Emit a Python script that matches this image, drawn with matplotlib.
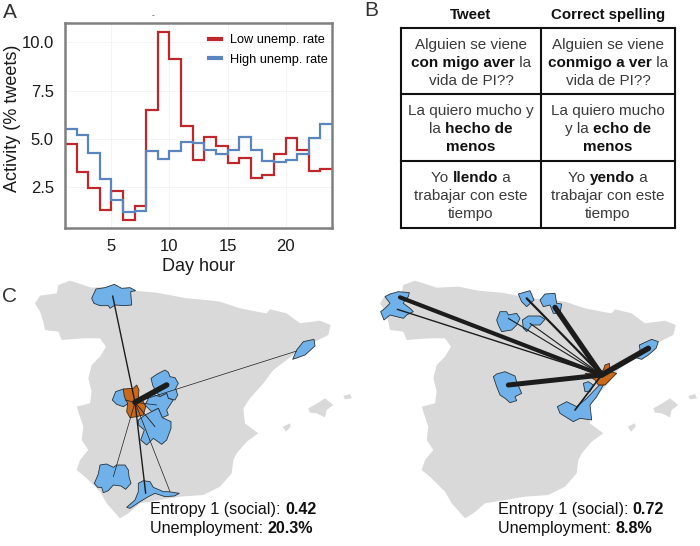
import numpy as np
import matplotlib
matplotlib.use('Agg')
import matplotlib.pyplot as plt
from matplotlib.patches import Polygon

plt.rcParams['font.family'] = ['Liberation Sans', 'DejaVu Sans']

# panel A data
hour_edges = list(range(1, 25))
low_rate = [4.75, 3.3, 2.45, 1.3, 2.33, 0.82, 1.52, 6.5, 10.55, 9.15, 5.65, 3.9,
            5.1, 4.62, 3.75, 4.0, 3.0, 3.12, 4.2, 5.05, 4.42, 3.35, 3.42]
high_rate = [5.5, 5.2, 4.28, 2.93, 1.83, 1.2, 1.28, 4.38, 3.97, 4.4, 4.82, 4.78,
             4.45, 4.22, 4.45, 5.12, 4.43, 3.85, 3.82, 3.9, 4.2, 5.05, 5.78]
x_ticks = [5, 10, 15, 20]
y_ticks = [2.5, 5.0, 7.5, 10.0]

# panel B data, a run is (text, bold)
col_heads = ['Tweet', 'Correct spelling']
tweet_cells = [
    [[('Alguien se viene', 0)], [('con migo aver', 1), (' la', 0)], [('vida de PI??', 0)]],
    [[('La quiero mucho y', 0)], [('la ', 0), ('hecho de', 1)], [('menos', 1)]],
    [[('Yo ', 0), ('llendo', 1), (' a', 0)], [('trabajar con este', 0)], [('tiempo', 0)]],
]
correct_cells = [
    [[('Alguien se viene', 0)], [('conmigo a ver', 1), (' la', 0)], [('vida de PI??', 0)]],
    [[('La quiero mucho', 0)], [('y la ', 0), ('echo de', 1)], [('menos', 1)]],
    [[('Yo ', 0), ('yendo', 1), (' a', 0)], [('trabajar con este', 0)], [('tiempo', 0)]],
]

spain = [(105,100),(120,77),(170,70),(175,45),(210,32),(235,40),(275,53),(340,50),(400,62),(470,68),
         (560,85),(620,90),(660,95),(720,115),(770,125),(800,130),(810,118),(860,130),(900,160),
         (960,152),(992,165),(985,195),(945,215),(905,235),(860,270),(820,300),(790,340),(750,385),
         (730,415),(735,460),(775,490),(740,515),(710,550),(700,570),(695,610),(660,650),(610,675),
         (540,680),(480,690),(420,700),(385,730),(360,745),(320,700),(300,665),(260,625),(230,600),
         (240,570),(265,540),(245,510),(250,470),(230,410),(270,400),(275,365),(265,325),(275,285),
         (300,260),(318,230),(300,205),(250,205),(185,210),(175,185),(135,180),(130,155),(120,125)]
islands = [[(925,415),(955,398),(975,385),(1000,405),(980,420),(975,442),(950,430),(930,428)],
           [(1030,378),(1050,372),(1056,385),(1035,388)],
           [(848,470),(870,460),(872,470),(858,485)]]

left_blue = [
    [(453,325),(470,313),(495,300),(505,307),(510,320),(525,323),(535,340),(527,355),(533,375),(525,390),(505,385),(500,370),(480,380),(465,360),(458,345)],
    [(450,370),(480,380),(500,370),(505,385),(520,390),(500,420),(505,435),(487,443),(475,415),(455,425),(435,405),(443,390)],
    [(415,450),(435,435),(455,425),(475,415),(487,443),(513,455),(513,475),(500,510),(485,523),(460,505),(440,525),(422,510),(433,480),(415,465)],
    [(337,390),(347,365),(370,357),(377,385),(385,400),(370,410),(350,403)],
    [(283,640),(295,612),(300,585),(320,582),(340,592),(350,585),(375,585),(385,600),(387,620),(393,640),(377,658),(363,648),(340,645),(325,662),(310,668),(305,652),(293,652)],
    [(380,712),(405,690),(415,665),(415,640),(430,632),(450,635),(460,652),(490,665),(505,665),(538,670),(523,678),(495,680),(465,670),(445,680),(420,695),(390,715)],
    [(275,85),(288,57),(315,53),(343,43),(365,55),(390,53),(407,62),(392,65),(395,105),(375,107),(345,105),(330,115),(325,107),(300,107),(282,100)],
    [(878,268),(890,240),(910,215),(942,208),(945,228),(915,255)],
]
left_orange = [[(370,357),(400,355),(410,345),(417,360),(415,380),(430,395),(437,410),(430,435),(410,440),(390,443),(380,425),(383,400),(373,380)]]
left_origin = (405, 397)
left_ends = [(338,78),(500,345),(890,243),(340,620),(437,670),(510,665),(465,470),(375,390),(470,405)]
left_widths = [1.0, 4.0, 0.5, 0.5, 1.0, 0.5, 0.6, 0.5, 0.5]

right_blue = [
    [(105,80),(120,72),(145,65),(178,68),(175,80),(165,90),(160,100),(180,115),(190,125),(170,135),(160,145),(120,135),(102,150),(92,125),(105,115),(120,100)],
    [(440,150),(450,125),(470,125),(475,135),(500,130),(510,145),(500,165),(485,180),(455,185),(445,165)],
    [(517,150),(535,138),(570,138),(585,148),(570,165),(545,165),(530,185),(520,175)],
    [(505,72),(540,62),(552,90),(530,110),(515,95)],
    [(570,90),(585,72),(615,70),(620,100),(635,102),(630,130),(610,130),(600,105),(580,110)],
    [(855,262),(870,240),(868,225),(905,208),(925,215),(918,235),(895,255),(875,268)],
    [(430,320),(440,312),(465,305),(495,318),(500,335),(515,370),(495,380),(500,392),(480,398),(465,385),(450,375),(440,350)],
    [(700,340),(715,335),(730,345),(720,365),(705,365)],
    [(748,345),(760,345),(740,380),(720,405),(725,450),(690,445),(670,455),(630,430),(622,410),(650,395),(680,410),(710,385)],
]
right_orange = [[(705,310),(735,310),(760,300),(765,285),(778,280),(780,305),(800,310),(780,330),(765,345),(745,345),(735,330)]]
right_origin = (755, 315)
right_ends = [(150,82),(142,118),(530,85),(615,112),(475,145),(540,160),(895,235),(475,345),(675,420)]
right_widths = [3.0, 1.0, 1.6, 3.8, 0.8, 0.8, 4.0, 3.6, 1.2]

right_dx = 1035
zoom_right = 1050
blue = '#6fb1e8'
orange = '#c8691c'
gray = '#d9d9d9'
dark = '#1c1c1c'

fig = plt.figure(figsize=(7, 5.46), dpi=100)

# background axes in pixels for everything but the line chart
bg = fig.add_axes([0, 0, 1, 1])
bg.set_xlim(0, 700)
bg.set_ylim(546, 0)
bg.axis('off')


def to_px(points, dx=0):
    return [((x + dx) / 3, y / 3 + 270) for x, y in points]


def draw_map(dx, blues, oranges, origin, ends, widths, blue_dx):
    bg.add_patch(Polygon(to_px(spain, dx), fc=gray, ec='none', zorder=1))
    for isl in islands:
        bg.add_patch(Polygon(to_px(isl, dx), fc=gray, ec='none', zorder=1))
    for p in blues:
        bg.add_patch(Polygon(to_px(p, blue_dx), fc=blue, ec='#26323c', lw=0.6, zorder=2))
    for p in oranges:
        bg.add_patch(Polygon(to_px(p, blue_dx), fc=orange, ec='#3a2a18', lw=0.6, zorder=3))
    ox, oy = to_px([origin], blue_dx)[0]
    for end, w in zip(ends, widths):
        ex, ey = to_px([end], blue_dx)[0]
        bg.plot([ox, ex], [oy, ey], color=dark, lw=w, solid_capstyle='round', zorder=4)


draw_map(0, left_blue, left_orange, left_origin, left_ends, left_widths, 0)
draw_map(right_dx, right_blue, right_orange, right_origin, right_ends, right_widths, zoom_right)

# panel letters
bg.text(3, 12, 'A', fontsize=15, va='center', color='#333333')
bg.text(364, 11, 'B', fontsize=15, va='center', color='#333333')
bg.text(2, 296, 'C', fontsize=15, va='center', color='#333333')
bg.text(153, 15.5, '-', fontsize=6, ha='center', va='center', color='#333333')

# table of panel B
tab_x = [401, 541, 675]
tab_y = [28, 94, 161, 228]
for x in tab_x:
    bg.plot([x, x], [tab_y[0], tab_y[-1]], color='#111111', lw=1.5, solid_capstyle='projecting', zorder=2)
for y in tab_y:
    bg.plot([tab_x[0], tab_x[-1]], [y, y], color='#111111', lw=1.5, solid_capstyle='projecting', zorder=2)

renderer = fig.canvas.get_renderer()


def run_width(s, bold, size):
    # the x's keep the spaces at the ends of a run in the measure
    t = bg.text(0, 0, 'x' + s + 'x', fontsize=size, fontweight='bold' if bold else 'normal')
    w = t.get_window_extent(renderer).width
    t.set_text('xx')
    w -= t.get_window_extent(renderer).width
    t.remove()
    return w


def draw_runs(cx, cy, runs, size, color='#3a3a3a', center=True):
    widths = [run_width(s, b, size) for s, b in runs]
    x = cx - sum(widths) / 2 if center else cx
    for (s, b), w in zip(runs, widths):
        bg.text(x, cy, s.replace(' ', '\u00a0'), fontsize=size, fontweight='bold' if b else 'normal',
                color='#111111' if b else color, ha='left', va='baseline')
        x += w


for col, cells in enumerate([tweet_cells, correct_cells]):
    cx = (tab_x[col] + tab_x[col + 1]) / 2
    draw_runs(cx, 19, [(col_heads[col], 1)], 10.8, center=True)
    for row, cell in enumerate(cells):
        for k, runs in enumerate(cell):
            draw_runs(cx, tab_y[row] + 21 + k * 18, runs, 11)

# map captions
draw_runs(150, 514, [('Entropy 1 (social): ', 0), ('0.42', 1)], 11.6, color='#111111', center=False)
draw_runs(150, 533, [('Unemployment: ', 0), ('20.3%', 1)], 11.6, color='#111111', center=False)
draw_runs(497.5, 514, [('Entropy 1 (social): ', 0), ('0.72', 1)], 11.6, color='#111111', center=False)
draw_runs(497.5, 533, [('Unemployment: ', 0), ('8.8%', 1)], 11.6, color='#111111', center=False)

# panel A
ax = fig.add_axes([65 / 700, 1 - 228 / 546, 267 / 700, 205 / 546])
ax.stairs(low_rate, hour_edges, color='#c0272d', lw=1.6, baseline=None, label='Low unemp. rate')
ax.stairs(high_rate, hour_edges, color='#5b85bf', lw=1.6, baseline=None, label='High unemp. rate')
ax.set_xlim(1, 24)
ax.set_ylim(0.39, 11.0)
ax.set_xticks(x_ticks)
ax.set_yticks(y_ticks)
ax.set_yticklabels(['%.1f' % v for v in y_ticks])
ax.tick_params(length=0, labelsize=12, pad=8, colors='#1a1a1a')
ax.grid(color='#f3f3f3', lw=0.6)
ax.set_axisbelow(True)
ax.set_xlabel('Day hour', fontsize=13, labelpad=3, color='#1a1a1a')
ax.set_ylabel('Activity (% tweets)', fontsize=13, color='#1a1a1a')
ax.yaxis.set_label_coords(-0.165, 0.537)
for s in ax.spines.values():
    s.set_color('#808080')
    s.set_linewidth(1.8)
leg = ax.legend(loc='upper right', bbox_to_anchor=(1.0, 0.965), frameon=False, fontsize=9.2,
                handlelength=1.0, handletextpad=0.7, labelspacing=0.6, borderaxespad=0, borderpad=0.3)
for h in leg.legend_handles:
    h.set_linewidth(3)

fig.savefig('out.png', dpi=100)
